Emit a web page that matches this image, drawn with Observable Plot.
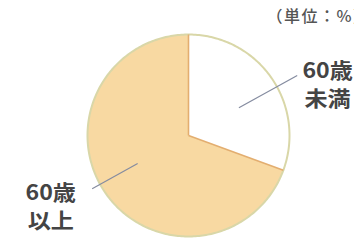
<!DOCTYPE html>
<html><head><meta charset="utf-8">
<script src="https://cdn.jsdelivr.net/npm/d3@7"></script>
<script src="https://cdn.jsdelivr.net/npm/@observablehq/plot@0.6"></script>
<style>
html,body{margin:0;padding:0;background:#fff;}
svg text{font-family:"Noto Sans CJK JP","Noto Sans",sans-serif;}
</style>
</head><body><div id="chart"></div>
<script>
// ---- data ----
const categories = ["60歳未満", "60歳以上"];
const labels = ["60歳\n未満", "60歳\n以上"];
const values = [30.6, 69.4];
const unitLabel = "（単位：%）";
const fills = ["#ffffff", "#f8d9a2"];

// ---- layout ----
const W = 354, H = 240, cx = 188, cy = 135, R = 101;
const leaderOffsetDeg = 6;
const labelLayout = [{dAng: 14.4, r: 1.47}, {dAng: 8, r: 1.53}];
const leaderRadii = [[0.57, 1.23], [0.575, 1.09]];

const arcs = d3.pie().sort(null).value(d => d.value)(
  categories.map((c, i) => ({c, value: values[i], i}))
);
const polar = (a, r) => ({x: r * Math.sin(a), y: r * Math.cos(a)});

const slicePts = arcs.map(a => {
  const n = 120, p = [{x: 0, y: 0}];
  for (let j = 0; j <= n; j++) p.push(polar(a.startAngle + (a.endAngle - a.startAngle) * j / n, 1));
  p.push({x: 0, y: 0});
  return p;
});
const circlePts = d3.range(0, 361).map(d => polar(d * Math.PI / 180, 1));
const dividers = arcs.map(a => { const p = polar(a.startAngle, 1); return {x1: 0, y1: 0, x2: p.x, y2: p.y}; });
const leaders = arcs.map((a, i) => {
  const m = (a.startAngle + a.endAngle) / 2 + leaderOffsetDeg * Math.PI / 180;
  const p1 = polar(m, leaderRadii[i][0]), p2 = polar(m, leaderRadii[i][1]);
  return {x1: p1.x, y1: p1.y, x2: p2.x, y2: p2.y};
});
const labelPts = arcs.map((a, i) => {
  const m = (a.startAngle + a.endAngle) / 2 + labelLayout[i].dAng * Math.PI / 180;
  return {...polar(m, labelLayout[i].r), text: labels[i]};
});

const chart = Plot.plot({
  width: W, height: H,
  margin: 0,
  style: {background: "#fff", overflow: "hidden"},
  x: {type: "linear", domain: [-1, 1], range: [cx - R, cx + R], axis: null},
  y: {type: "linear", domain: [-1, 1], range: [cy + R, cy - R], axis: null},
  marks: [
    ...slicePts.map((p, i) => Plot.line(p, {x: "x", y: "y", fill: fills[i], stroke: "none", curve: "linear"})),
    Plot.line(circlePts, {x: "x", y: "y", stroke: "#d9d7a8", strokeWidth: 2}),
    Plot.link(dividers, {x1: "x1", y1: "y1", x2: "x2", y2: "y2", stroke: "#e3ae70", strokeWidth: 1.6}),
    Plot.link(leaders, {x1: "x1", y1: "y1", x2: "x2", y2: "y2", stroke: "#858ca0", strokeWidth: 1.2}),
    Plot.text(labelPts, {x: "x", y: "y", text: "text", fontSize: 21, lineHeight: 1.33, fill: "#444", fontWeight: "bold", textAnchor: "middle", lineAnchor: "middle"}),
    Plot.text([unitLabel], {frameAnchor: "top-left", dx: 266, dy: 16, text: d => d, fontSize: 16, fill: "#555", fontWeight: 500, textAnchor: "start", lineAnchor: "middle"})
  ]
});
// slightly wide lettering as in the reference
d3.select(chart).selectAll("text").each(function() {
  const t = this.textContent;
  if (t.includes("単位")) this.setAttribute("letter-spacing", "1.5");
  else if (t.includes("60")) {
    const tr = this.getAttribute("transform") || "";
    this.setAttribute("transform", tr + " scale(1.1,1)");
  }
});
document.getElementById("chart").appendChild(chart);
</script>
</body></html>
